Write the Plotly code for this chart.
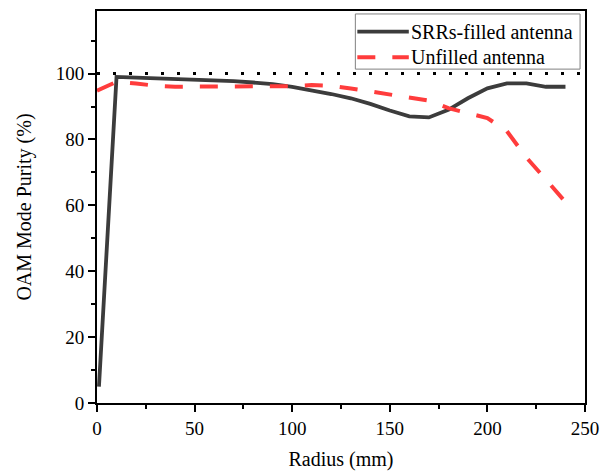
import plotly.graph_objects as go

# Data
radius_srr = [1, 10, 20, 30, 40, 50, 60, 70, 80, 90, 100, 110, 120, 130, 140,
              150, 160, 170, 180, 190, 200, 210, 220, 230, 240]
purity_srr = [5, 99, 98.8, 98.6, 98.4, 98.2, 98.0, 97.7, 97.3, 96.8, 96.0, 95.0,
              93.8, 92.5, 90.8, 88.8, 87.0, 86.7, 89.0, 92.5, 95.5, 97.0, 97.0,
              96.0, 96.0]

radius_unf = [0, 10, 20, 30, 40, 50, 60, 70, 80, 90, 100, 110, 120, 130, 140,
              150, 160, 170, 180, 190, 200, 210, 220, 230, 240]
purity_unf = [94.8, 97.5, 97.0, 96.3, 96.0, 96.0, 96.0, 96.2, 96.3, 96.3, 96.2,
              96.5, 96.3, 95.5, 94.5, 93.5, 92.8, 91.8, 89.5, 88.0, 86.5, 82.5,
              74.5, 67.8, 61.0]

ref_x = [0, 250]
ref_y = [100, 100]

names = ["SRRs-filled antenna", "Unfilled antenna"]

FONT = "Liberation Serif"
SRR_STYLE = dict(color="#3c3c3c", width=3.8)
UNF_STYLE = dict(color="#ff3c3c", width=4, dash="18px,17px")

fig = go.Figure()
fig.add_trace(go.Scatter(x=ref_x, y=ref_y, mode="lines", showlegend=False,
                         line=dict(color="black", width=3, dash="3px,13px"),
                         hoverinfo="skip"))
fig.add_trace(go.Scatter(x=radius_srr, y=purity_srr, mode="lines", name=names[0],
                         line=SRR_STYLE, showlegend=False))
fig.add_trace(go.Scatter(x=radius_unf, y=purity_unf, mode="lines", name=names[1],
                         line=UNF_STYLE, showlegend=False))

axis_common = dict(
    showline=True, linecolor="black", linewidth=2, mirror=True,
    ticks="outside", ticklen=7, tickwidth=2, tickcolor="black",
    showgrid=False, zeroline=False,
    tickfont=dict(family=FONT, size=19, color="black"),
)

fig.update_xaxes(range=[0, 250], dtick=50, tick0=0,
                 minor=dict(dtick=25, ticks="outside", ticklen=4, tickwidth=2, tickcolor="black"),
                 title=dict(text="Radius (mm)", font=dict(family=FONT, size=20, color="black"),
                            standoff=14),
                 **axis_common)
fig.update_yaxes(range=[0, 119], dtick=20, tick0=0,
                 minor=dict(dtick=10, ticks="outside", ticklen=4, tickwidth=2, tickcolor="black"),
                 title=dict(text="OAM Mode Purity (%)", font=dict(family=FONT, size=20, color="black"),
                            standoff=19),
                 **axis_common)

# Legend drawn manually (box, samples, labels) in paper coordinates
L, R, T, B = 97, 590, 9, 407
def px(x):
    return (x - L) / (R - L)
def py(y):
    return (B - y) / (B - T)

shapes = [
    dict(type="rect", xref="paper", yref="paper", layer="above",
         x0=px(358), x1=px(585), y0=py(68), y1=py(12),
         line=dict(color="#808080", width=1), fillcolor="white"),
    dict(type="line", xref="paper", yref="paper", layer="above",
         x0=px(360), x1=px(412), y0=py(30), y1=py(30), line=SRR_STYLE),
    dict(type="line", xref="paper", yref="paper", layer="above",
         x0=px(360), x1=px(412), y0=py(56), y1=py(56), line=UNF_STYLE),
]
annotations = [
    dict(xref="paper", yref="paper", x=px(412), y=py(30), text=names[0],
         showarrow=False, xanchor="left", yanchor="middle",
         font=dict(family=FONT, size=20, color="black")),
    dict(xref="paper", yref="paper", x=px(412), y=py(56), text=names[1],
         showarrow=False, xanchor="left", yanchor="middle",
         font=dict(family=FONT, size=20, color="black")),
]

fig.update_layout(
    width=608, height=476,
    margin=dict(l=97, r=18, t=9, b=69),
    paper_bgcolor="white", plot_bgcolor="white",
    font=dict(family=FONT, color="black"),
    showlegend=False,
    shapes=shapes, annotations=annotations,
)

fig.write_html("out.html")
